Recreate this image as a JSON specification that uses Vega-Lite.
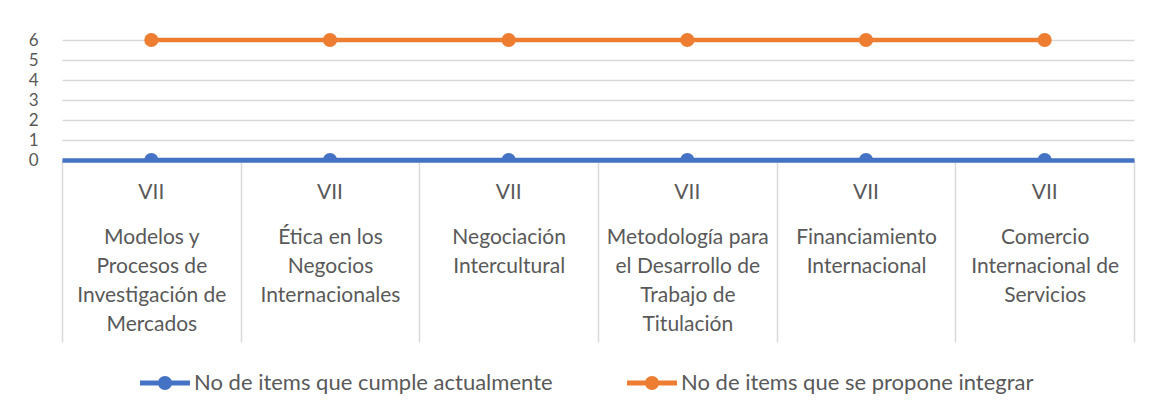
{
  "$schema": "https://vega.github.io/schema/vega-lite/v6.json",
  "width": 1072,
  "height": 128,
  "autosize": {"type": "none"},
  "padding": {"left": 62, "top": 32, "right": 18, "bottom": 249},
  "background": "white",
  "config": {
    "font": "Lato",
    "view": {"stroke": null},
    "axis": {"labelFont": "Lato", "labelColor": "#595959"},
    "legend": {"labelFont": "Lato", "labelColor": "#595959"}
  },
  "datasets": {
    "items": [
      {"curso": "Modelos y|Procesos de|Investigación de|Mercados", "semestre": "VII", "serie": "No de items que cumple actualmente", "valor": 0},
      {"curso": "Ética en los|Negocios|Internacionales", "semestre": "VII", "serie": "No de items que cumple actualmente", "valor": 0},
      {"curso": "Negociación|Intercultural", "semestre": "VII", "serie": "No de items que cumple actualmente", "valor": 0},
      {"curso": "Metodología para|el Desarrollo de|Trabajo de|Titulación", "semestre": "VII", "serie": "No de items que cumple actualmente", "valor": 0},
      {"curso": "Financiamiento|Internacional", "semestre": "VII", "serie": "No de items que cumple actualmente", "valor": 0},
      {"curso": "Comercio|Internacional de|Servicios", "semestre": "VII", "serie": "No de items que cumple actualmente", "valor": 0},
      {"curso": "Modelos y|Procesos de|Investigación de|Mercados", "semestre": "VII", "serie": "No de items que se propone integrar", "valor": 6},
      {"curso": "Ética en los|Negocios|Internacionales", "semestre": "VII", "serie": "No de items que se propone integrar", "valor": 6},
      {"curso": "Negociación|Intercultural", "semestre": "VII", "serie": "No de items que se propone integrar", "valor": 6},
      {"curso": "Metodología para|el Desarrollo de|Trabajo de|Titulación", "semestre": "VII", "serie": "No de items que se propone integrar", "valor": 6},
      {"curso": "Financiamiento|Internacional", "semestre": "VII", "serie": "No de items que se propone integrar", "valor": 6},
      {"curso": "Comercio|Internacional de|Servicios", "semestre": "VII", "serie": "No de items que se propone integrar", "valor": 6}
    ],
    "cursos": [
      {"curso": "Modelos y|Procesos de|Investigación de|Mercados", "semestre": "VII"},
      {"curso": "Ética en los|Negocios|Internacionales", "semestre": "VII"},
      {"curso": "Negociación|Intercultural", "semestre": "VII"},
      {"curso": "Metodología para|el Desarrollo de|Trabajo de|Titulación", "semestre": "VII"},
      {"curso": "Financiamiento|Internacional", "semestre": "VII"},
      {"curso": "Comercio|Internacional de|Servicios", "semestre": "VII"}
    ]
  },
  "layer": [
    {
      "data": {"name": "items"},
      "encoding": {
        "x": {
          "field": "curso", "type": "nominal", "sort": null,
          "scale": {"type": "band", "paddingInner": 0, "paddingOuter": 0},
          "axis": {
            "title": null,
            "orient": "bottom",
            "domain": true, "domainColor": "#4472C4", "domainWidth": 4.5,
            "ticks": true, "tickBand": "extent", "tickSize": 182, "tickColor": "#d9d9d9", "tickWidth": 1.5,
            "grid": false,
            "labelAngle": 0,
            "labelAlign": "center",
            "labelBaseline": "top",
            "labelFontSize": 21,
            "labelLineHeight": 29,
            "labelPadding": -116,
            "labelOverlap": false,
            "labelExpr": "datum.value ? split(datum.value, '|') : ''"
          }
        },
        "y": {
          "field": "valor", "type": "quantitative",
          "scale": {"domain": [0, 6.4], "nice": false},
          "axis": {
            "title": null,
            "values": [0, 1, 2, 3, 4, 5, 6],
            "tickCount": 7,
            "domain": false, "ticks": false,
            "grid": true, "gridColor": "#d9d9d9", "gridWidth": 1.5,
            "labelFontSize": 17, "labelPadding": 24, "labelBaseline": "middle",
            "labelOverlap": false
          }
        },
        "color": {
          "field": "serie", "type": "nominal",
          "scale": {"domain": ["No de items que cumple actualmente", "No de items que se propone integrar"], "range": ["#4472C4", "#ED7D31"]},
          "legend": {
            "title": null,
            "orient": "none",
            "legendX": 78,
            "legendY": 326,
            "direction": "horizontal",
            "symbolType": "M-1,-0.1 H1 V0.1 H-1 Z M0.28,0 A0.28,0.28 0 1 1 -0.28,0 A0.28,0.28 0 1 1 0.28,0 Z",
            "symbolSize": 2500,
            "symbolStrokeWidth": 0,
            "symbolOpacity": 1,
            "labelFontSize": 22,
            "labelOffset": 4,
            "labelLimit": 0,
            "columnPadding": 74
          }
        }
      },
      "layer": [
        {"mark": {"type": "line", "strokeWidth": 4.5, "clip": true}},
        {"mark": {"type": "point", "filled": true, "opacity": 1, "size": 200, "clip": true}}
      ]
    },
    {
      "data": {"name": "cursos"},
      "mark": {"type": "text", "fontSize": 21, "baseline": "middle", "align": "center", "color": "#595959"},
      "encoding": {
        "x": {
          "field": "curso", "type": "nominal", "sort": null,
          "scale": {"type": "band", "paddingInner": 0, "paddingOuter": 0},
          "axis": {
            "title": null,
            "orient": "bottom",
            "domain": true, "domainColor": "#4472C4", "domainWidth": 4.5,
            "ticks": true, "tickBand": "extent", "tickSize": 182, "tickColor": "#d9d9d9", "tickWidth": 1.5,
            "grid": false,
            "labelAngle": 0,
            "labelAlign": "center",
            "labelBaseline": "top",
            "labelFontSize": 21,
            "labelLineHeight": 29,
            "labelPadding": -116,
            "labelOverlap": false,
            "labelExpr": "datum.value ? split(datum.value, '|') : ''"
          }
        },
        "y": {
          "datum": -1.65, "type": "quantitative",
          "axis": {
            "title": null,
            "values": [0, 1, 2, 3, 4, 5, 6],
            "tickCount": 7,
            "domain": false, "ticks": false,
            "grid": true, "gridColor": "#d9d9d9", "gridWidth": 1.5,
            "labelFontSize": 17, "labelPadding": 24, "labelBaseline": "middle",
            "labelOverlap": false
          }
        },
        "text": {"field": "semestre"}
      }
    }
  ]
}
